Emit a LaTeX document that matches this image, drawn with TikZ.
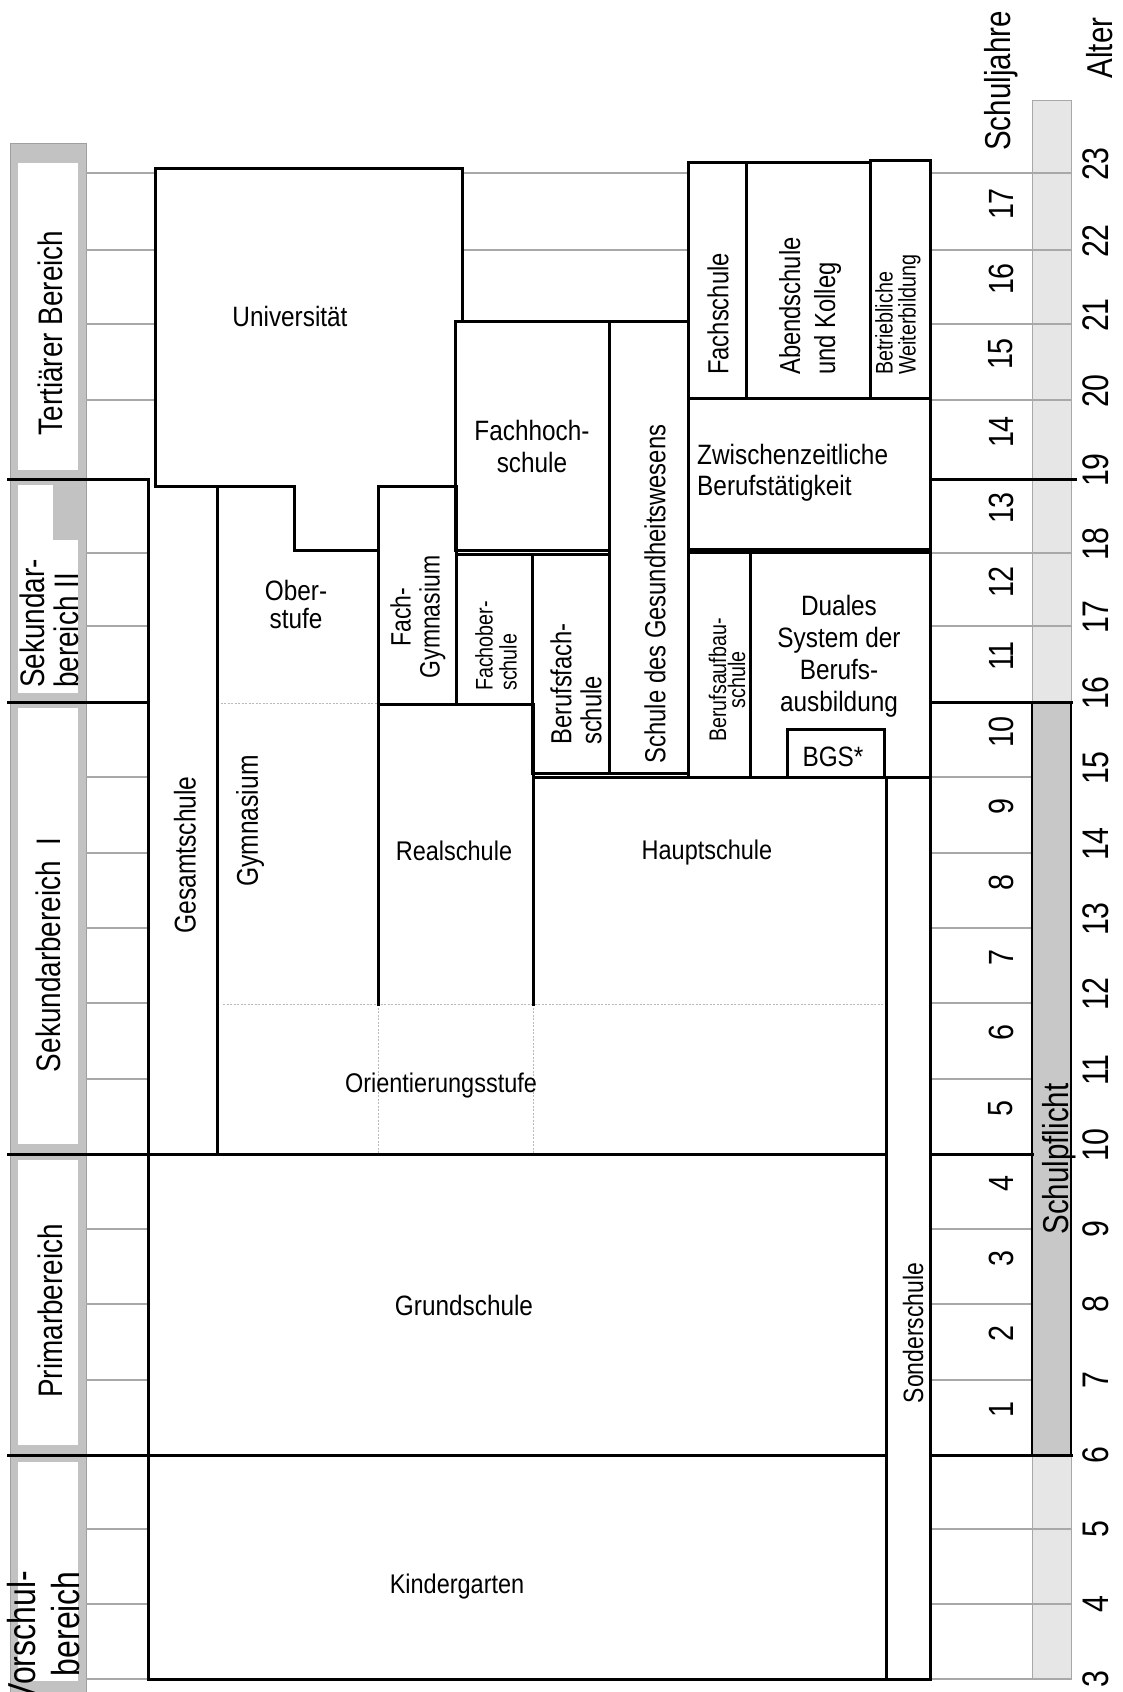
\documentclass[tikz,border=0pt]{standalone}
\usepackage{fontspec}
\setmainfont{Liberation Sans}
\newfontfamily\hf{Liberation Sans}[FakeStretch=0.87]
\newfontfamily\vf{Liberation Sans}[FakeStretch=0.82]
\definecolor{framec}{HTML}{C2C2C2}
\definecolor{lightbar}{HTML}{E6E6E6}
\definecolor{darkbar}{HTML}{C8C8C8}
\definecolor{gridc}{HTML}{A8A8A8}
\newcommand{\myfs}[2]{\fontsize{#1}{#2}\selectfont}
\tikzset{
  box/.style={draw=black, line width=3pt, line cap=rect},
  gridline/.style={draw=gridc, line width=1.2pt},
  dotline/.style={draw=gray!55, line width=0.8pt, dash pattern=on 2pt off 1.5pt},
  htext/.style={font=\hf\myfs{28}{32}, inner sep=0pt, align=center, text=black},
  vtext/.style={font=\vf\myfs{29}{32}, inner sep=0pt, rotate=90, align=center, text=black},
  sectortext/.style={font=\vf\myfs{34}{34}, inner sep=0pt, rotate=90, text=black},
  numtext/.style={font=\vf\myfs{35}{35}, inner sep=0pt, rotate=90, text=black},
  agetext/.style={font=\vf\myfs{37}{37}, inner sep=0pt, rotate=90, text=black}
}
\begin{document}
\begin{tikzpicture}[x=1pt,y=-1pt]
\useasboundingbox (0,0) rectangle (1123,1692);
\fill[white] (0,0) rectangle (1123,1692);

% ---- sector frames (left column)
\foreach \t/\b/\it/\ib in {143/480/163/470, 480/703/485/693, 703/1154/708/1144, 1154/1455/1160/1445, 1455/1692/1462/1681}{
  \filldraw[fill=framec, draw=gray!75, line width=1pt] (10,\t) rectangle (86,\b);
  \fill[white] (18,\it) rectangle (78,\ib);
}
\fill[framec] (53,481) rectangle (86,540);

% ---- Schulpflicht background bar
\filldraw[fill=lightbar, draw=gridc, line width=1pt] (1032,100) rectangle (1071,1679);

% ---- thin grid lines
\foreach \y in {1679,1604,1529,1380,1304,1229,1079,1003,928,853,777,626,553}{
  \draw[gridline] (86,\y) -- (148,\y);
}
\foreach \y in {400,324,250,173}{
  \draw[gridline] (86,\y) -- (155,\y);
}
\foreach \y in {250,173}{
  \draw[gridline] (462,\y) -- (688,\y);
}
\foreach \y in {1679,1604,1529,626,553,400,324,250,173}{
  \draw[gridline] (930,\y) -- (1071,\y);
}
\foreach \y in {1380,1304,1229,1079,1003,928,853,777}{
  \draw[gridline] (930,\y) -- (1032,\y);
}

% ---- compulsory schooling bar
\filldraw[fill=darkbar, draw=black, line width=2.5pt] (1032,702) rectangle (1071,1455);

% ---- dotted divisions
\draw[dotline] (217,703) -- (378,703);
\draw[dotline] (223,1004) -- (886,1004);
\draw[dotline] (378,1004) -- (378,1154);
\draw[dotline] (533,1004) -- (533,1154);

% ---- thick sector lines
\draw[box] (8,479) -- (148,479);
\draw[box] (930,479) -- (1075,479);
\draw[box] (8,702) -- (148,702);
\draw[box] (930,702) -- (1071,702);
\draw[box] (8,1154) -- (886,1154);
\draw[box] (930,1154) -- (1032,1154);
\draw[box] (8,1455) -- (886,1455);
\draw[box] (930,1455) -- (1071,1455);

% ---- Universitaet
\draw[box] (155,486) -- (155,168) -- (462,168) -- (462,321);
\draw[box] (155,486) -- (294,486) -- (294,550) -- (378,550);
\draw[box] (378,486) -- (455,486);
% ---- Fachhochschule and Schule des Gesundheitswesens
\draw[box] (455,321) rectangle (609,550);
\draw[box] (609,321) -- (688,321);
\draw[box] (609,550) -- (609,773) -- (688,773) -- (688,162);
% ---- Fachschule, Abendschule, Weiterbildung, Zwischenzeitliche
\draw[box] (688,162) rectangle (746,398);
\draw[box] (746,162) rectangle (870,398);
\draw[box] (870,160) rectangle (930,398);
\draw[box] (688,398) rectangle (930,549);
% ---- Berufsaufbauschule, Duales System, BGS
\draw[box] (688,552) rectangle (750,777);
\draw[box] (750,552) rectangle (930,777);
\draw[box] (787,777) -- (787,729) -- (884,729) -- (884,777);
% ---- Fachoberschule, Berufsfachschule, Fach-Gymnasium
\draw[box] (456,554) rectangle (532,704);
\draw[box] (532,554) rectangle (609,773);
\draw[box] (378,486) rectangle (456,704);
% ---- Gymnasium, Realschule, Hauptschule
\draw[box] (217,488) -- (217,1154);
\draw[box] (378,486) -- (378,1004);
\draw[box] (533,704) -- (533,1004);
\draw[box] (533,777) -- (886,777);
% ---- Gesamtschule, Grundschule, Kindergarten, Sonderschule
\draw[box] (148,479) -- (148,1679) -- (930,1679);
\draw[box] (886,777) -- (886,1679);
\draw[box] (930,160) -- (930,1679);

% ---- sector labels
\node[sectortext] (tert) at (50,333) {Terti\"arer Bereich};
\node[sectortext, align=left, anchor=west] (sek2) at (49,688) {Sekundar-\\bereich II};
\node[sectortext] (sek1) at (48,955) {Sekundarbereich\ \ I};
\node[sectortext] (prim) at (50,1311) {Primarbereich};
\node[sectortext, font=\vf\myfs{39}{44}, align=right, anchor=east] (vor) at (44,1571) {Vorschul-\\bereich};

% ---- horizontal labels
\node[htext] (uni) at (290,316) {Universit\"at};
\node[htext] (fh) at (532,446) {Fachhoch-\\schule};
\node[htext, font=\hf\myfs{28}{28}] (ober) at (296,604) {Ober-\\stufe};
\node[htext, align=left, anchor=west, font=\hf\myfs{28}{31}] (zwi) at (697,473) {Zwischenzeitliche\\Berufst\"atigkeit};
\node[htext] (dual) at (839,656) {Duales\\System der\\Berufs-\\ausbildung};
\node[htext] (bgs) at (833,757) {BGS*};
\node[htext, font=\hf\myfs{27}{30}] (real) at (454,851) {Realschule};
\node[htext, font=\hf\myfs{27}{30}] (haupt) at (707,853) {Hauptschule};
\node[htext, font=\hf\myfs{27}{30}] (orient) at (441,1086) {Orientierungsstufe};
\node[htext] (grund) at (464,1305) {Grundschule};
\node[htext, font=\hf\myfs{27}{30}] (kiga) at (457,1586) {Kindergarten};

% ---- vertical labels
\node[vtext, font=\vf\myfs{30}{32}] (gesamt) at (185,855) {Gesamtschule};
\node[vtext, font=\vf\myfs{30}{32}] (gym) at (250,821) {Gymnasium};
\node[vtext, font=\vf\myfs{28}{29}] (fgym) at (418,617) {Fach-\\Gymnasium};
\node[vtext, font=\vf\myfs{24}{24}, align=left, anchor=west] (fos) at (496,691) {Fachober-\\schule};
\node[vtext, font=\vf\myfs{29}{30}, align=left, anchor=west] (bfs) at (576,745) {Berufsfach-\\schule};
\node[vtext] (sdg) at (655,594) {Schule des Gesundheitswesens};
\node[vtext, font=\vf\myfs{24}{19}] (bas) at (727,680) {Berufsaufbau-\\schule};
\node[vtext] (fs) at (718,314) {Fachschule};
\node[vtext, font=\vf\myfs{29}{35}, align=left, anchor=west] (abend) at (810,375) {Abendschule\\und Kolleg};
\node[vtext, font=\vf\myfs{24}{23}, align=left, anchor=west] (betr) at (898,375) {Betriebliche\\Weiterbildung};
\node[vtext, font=\vf\myfs{28}{30}] (sonder) at (913,1333) {Sonderschule};
\node[vtext, font=\vf\myfs{36}{36}, anchor=base] (pflicht) at (1068,1159) {Schulpflicht};
\node[vtext, font=\vf\myfs{36}{36}, anchor=base] (sjahre) at (1010,81) {Schuljahre};
\node[vtext, font=\vf\myfs{36}{36}, anchor=base] (alter) at (1112,48) {Alter};

% ---- school year numbers
\foreach \n/\yc in {1/1410,2/1334,3/1259,4/1184,5/1109,6/1033,7/958,8/883,9/807,10/732,11/656,12/582,13/508,14/432,15/354,16/279,17/204}{
  \node[numtext] (sj\n) at (1001,\yc) {\n};
}
% ---- age numbers
\foreach \a/\ya in {3/1679,4/1604,5/1529,6/1455,7/1380,8/1304,9/1229,10/1145,11/1070,12/994,13/919,14/844,15/768,16/693,17/617,18/544,19/470,20/391,21/315,22/241,23/164}{
  \node[agetext] (age\a) at (1096,\ya) {\a};
}
\end{tikzpicture}
\end{document}
